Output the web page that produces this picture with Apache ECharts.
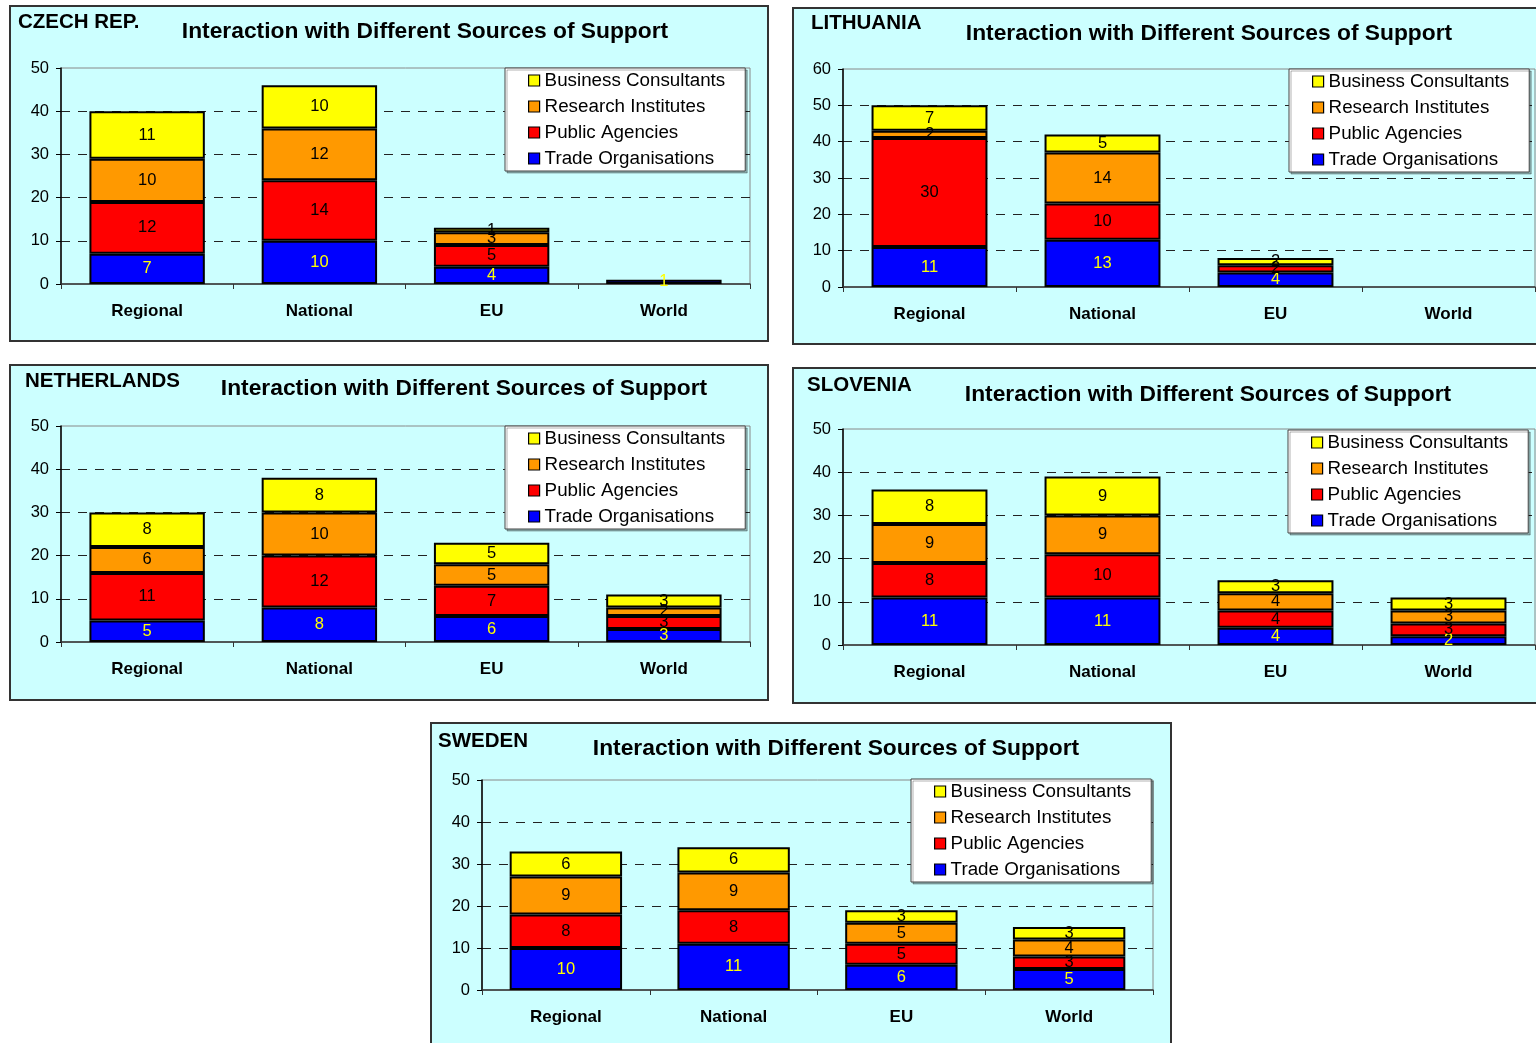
<!DOCTYPE html>
<html>
<head>
<meta charset="utf-8">
<title>Interaction with Different Sources of Support</title>
<script src="https://cdn.jsdelivr.net/npm/echarts@6/dist/echarts.min.js"></script>
<style>
  html, body { margin: 0; padding: 0; background: #ffffff; }
  #chart { width: 1536px; height: 1043px; }
</style>
</head>
<body>
<div id="chart"></div>
<script>
// ---- data -------------------------------------------------------------
const categories = ['Regional', 'National', 'EU', 'World'];
const legendOrder = ['Business Consultants', 'Research Institutes', 'Public Agencies', 'Trade Organisations'];
const stackOrder = ['Trade Organisations', 'Public Agencies', 'Research Institutes', 'Business Consultants'];

// values per category: [Regional, National, EU, World]
const czechTrade    = [7, 10, 4, 1];
const czechPublic   = [12, 14, 5, 0];
const czechResearch = [10, 12, 3, 0];
const czechBusiness = [11, 10, 1, 0];

const lithuaniaTrade    = [11, 13, 4, 0];
const lithuaniaPublic   = [30, 10, 2, 0];
const lithuaniaResearch = [2, 14, 0, 0];
const lithuaniaBusiness = [7, 5, 2, 0];

const netherlandsTrade    = [5, 8, 6, 3];
const netherlandsPublic   = [11, 12, 7, 3];
const netherlandsResearch = [6, 10, 5, 2];
const netherlandsBusiness = [8, 8, 5, 3];

const sloveniaTrade    = [11, 11, 4, 2];
const sloveniaPublic   = [8, 10, 4, 3];
const sloveniaResearch = [9, 9, 4, 3];
const sloveniaBusiness = [8, 9, 3, 3];

const swedenTrade    = [10, 11, 6, 5];
const swedenPublic   = [8, 8, 5, 3];
const swedenResearch = [9, 9, 5, 4];
const swedenBusiness = [6, 6, 3, 3];

const countryNames = ['CZECH REP.', 'LITHUANIA', 'NETHERLANDS', 'SLOVENIA', 'SWEDEN'];
const yMax = [50, 60, 50, 50, 50];
const chartTitle = 'Interaction with Different Sources of Support';

const countryValues = [
  [czechTrade, czechPublic, czechResearch, czechBusiness],
  [lithuaniaTrade, lithuaniaPublic, lithuaniaResearch, lithuaniaBusiness],
  [netherlandsTrade, netherlandsPublic, netherlandsResearch, netherlandsBusiness],
  [sloveniaTrade, sloveniaPublic, sloveniaResearch, sloveniaBusiness],
  [swedenTrade, swedenPublic, swedenResearch, swedenBusiness]
];

// ---- layout & style ----------------------------------------------------
const FONT = '"Liberation Sans", Arial, sans-serif';
const seriesColors = {
  'Trade Organisations': '#0000FF',
  'Public Agencies': '#FF0000',
  'Research Institutes': '#FF9900',
  'Business Consultants': '#FFFF00'
};
const labelColors = {
  'Trade Organisations': '#FFFF00',
  'Public Agencies': '#000000',
  'Research Institutes': '#000000',
  'Business Consultants': '#000000'
};

// page-pixel geometry of each panel
const panels = [
  { frame: [10, 6, 758, 335],  grid: [61, 68, 689, 216],  name: [18, 22],  title: [425, 32],  legend: [505, 68] },
  { frame: [793, 8, 760, 336], grid: [843, 69, 692, 218], name: [811, 23], title: [1209, 34], legend: [1289, 69] },
  { frame: [10, 365, 758, 335], grid: [61, 426, 689, 216], name: [25, 381], title: [464, 389], legend: [505, 426] },
  { frame: [793, 368, 760, 335], grid: [843, 429, 692, 216], name: [807, 385], title: [1208, 395], legend: [1288, 430] },
  { frame: [431, 723, 740, 340], grid: [482, 780, 671, 210], name: [438, 741], title: [836, 749], legend: [911, 779] }
];

const grids = [], xAxes = [], yAxes = [], series = [], legends = [], graphics = [];

panels.forEach((p, i) => {
  graphics.push({
    type: 'rect', z: -10,
    shape: { x: p.frame[0], y: p.frame[1], width: p.frame[2], height: p.frame[3] },
    style: { fill: '#CCFFFF', stroke: '#333333', lineWidth: 2 }
  });
  graphics.push({
    type: 'text', z: -5, x: p.name[0], y: p.name[1],
    style: { text: countryNames[i], font: 'bold 20.5px ' + FONT, fill: '#000', textAlign: 'left', textVerticalAlign: 'middle' }
  });
  graphics.push({
    type: 'text', z: -5, x: p.title[0], y: p.title[1],
    style: { text: chartTitle, font: 'bold 22.8px ' + FONT, fill: '#000', textAlign: 'center', textVerticalAlign: 'middle' }
  });

  grids.push({
    left: p.grid[0], top: p.grid[1], width: p.grid[2], height: p.grid[3],
    show: true, borderColor: '#888888', borderWidth: 1, backgroundColor: 'transparent'
  });

  xAxes.push({
    type: 'category', gridIndex: i, data: categories,
    axisLine: { lineStyle: { color: '#333', width: 1.5 } },
    axisTick: { show: true, length: 5, lineStyle: { color: '#333' } },
    axisLabel: { color: '#000', fontFamily: FONT, fontWeight: 'bold', fontSize: 17, margin: 19 },
    splitLine: { show: false }
  });

  yAxes.push({
    type: 'value', gridIndex: i, min: 0, max: yMax[i], interval: 10,
    axisLine: { show: true, lineStyle: { color: '#000', width: 1.5 } },
    axisTick: { show: true, length: 5, lineStyle: { color: '#000' } },
    axisLabel: { color: '#000', fontFamily: FONT, fontSize: 16.5, margin: 12 },
    splitLine: { show: true, showMinLine: false, showMaxLine: false, lineStyle: { color: '#222', width: 1, type: [9, 8] } }
  });

  stackOrder.forEach((name, k) => {
    const vals = countryValues[i][k];
    series.push({
      type: 'bar', name: name, stack: 'panel' + i,
      xAxisIndex: i, yAxisIndex: i,
      barWidth: '67%',
      data: vals.map(v => (v === 0 ? null : v)),
      itemStyle: { color: seriesColors[name], borderColor: '#000', borderWidth: 2 },
      label: {
        show: true, position: 'inside', color: labelColors[name],
        fontFamily: FONT, fontSize: 16.5
      }
    });
  });

  legends.push({
    data: legendOrder, orient: 'vertical',
    left: p.legend[0], top: p.legend[1],
    padding: [3, 20, 3, 23], itemGap: 7,
    itemWidth: 11, itemHeight: 11, icon: 'rect',
    backgroundColor: '#FFFFFF', borderColor: '#444', borderWidth: 1,
    shadowColor: 'rgba(0,0,0,0.3)', shadowOffsetX: 2, shadowOffsetY: 2, shadowBlur: 0,
    textStyle: { color: '#000', fontFamily: FONT, fontSize: 18.8, lineHeight: 19 },
    itemStyle: { borderColor: '#000', borderWidth: 1.2 }
  });
});

const chart = echarts.init(document.getElementById('chart'), null, { renderer: 'canvas' });
chart.setOption({
  animation: false,
  backgroundColor: '#FFFFFF',
  graphic: { elements: graphics },
  grid: grids,
  xAxis: xAxes,
  yAxis: yAxes,
  legend: legends,
  series: series
});
</script>
</body>
</html>
